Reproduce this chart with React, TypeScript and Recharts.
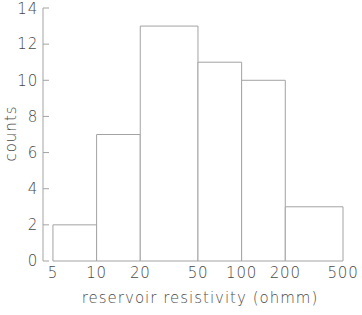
import React from 'react';
import { ComposedChart, Line, XAxis, YAxis, ReferenceArea } from 'recharts';

// bin edges in ohm-m (log spaced) and counts per bin
const binEdges = [5, 10, 20, 50, 100, 200, 500];
const counts = [2, 7, 13, 11, 10, 3];
const xTicks = [5, 10, 20, 50, 100, 200, 500];
const yTicks = [0, 2, 4, 6, 8, 10, 12, 14];

const histData = counts.map((c, i) => ({ lo: binEdges[i], hi: binEdges[i + 1], count: c }));

const LINE = '#a3a3a3';
const TEXT = '#4a4a4a';
const FONT = '"DejaVu Sans", sans-serif';

export default function App() {
  return (
    <div style={{ position: 'absolute', left: 0, top: 0, background: '#fff' }}>
      <ComposedChart
        width={362}
        height={315}
        data={histData}
        margin={{ top: 8, right: 19, bottom: 0, left: 0 }}
      >
        <XAxis
          dataKey="lo"
          type="number"
          scale="log"
          domain={[4.27, 500]}
          allowDataOverflow
          ticks={xTicks}
          axisLine={false}
          tickLine={false}
          tickSize={4}
          tickMargin={2}
          height={54}
          tick={{ fill: TEXT, fontSize: 15, fontFamily: FONT, fontWeight: 200, letterSpacing: 0.8 }}
          label={{
            value: 'reservoir resistivity (ohmm)',
            position: 'insideBottom',
            offset: 12,
            dx: 7,
            fill: TEXT,
            fontSize: 15,
            fontFamily: FONT,
            fontWeight: 200,
            letterSpacing: 1,
          }}
        />
        <YAxis
          type="number"
          domain={[0, 14]}
          ticks={yTicks}
          width={43}
          stroke={LINE}
          tickSize={-6}
          tickMargin={11}
          tick={{ fill: TEXT, fontSize: 15, fontFamily: FONT, fontWeight: 200, letterSpacing: 0.8 }}
          label={{
            value: 'counts',
            angle: -90,
            position: 'center',
            dx: -11,
            dy: -1,
            fill: TEXT,
            fontSize: 15,
            fontFamily: FONT,
            fontWeight: 200,
            letterSpacing: 1,
          }}
        />
        {histData.map((b) => (
          <ReferenceArea
            key={b.lo}
            x1={b.lo}
            x2={b.hi}
            y1={0}
            y2={b.count}
            fill="#ffffff"
            fillOpacity={1}
            stroke={LINE}
            strokeWidth={1}
          />
        ))}
        <Line
          dataKey="count"
          stroke="none"
          dot={false}
          activeDot={false}
          isAnimationActive={false}
        />
      </ComposedChart>
    </div>
  );
}
